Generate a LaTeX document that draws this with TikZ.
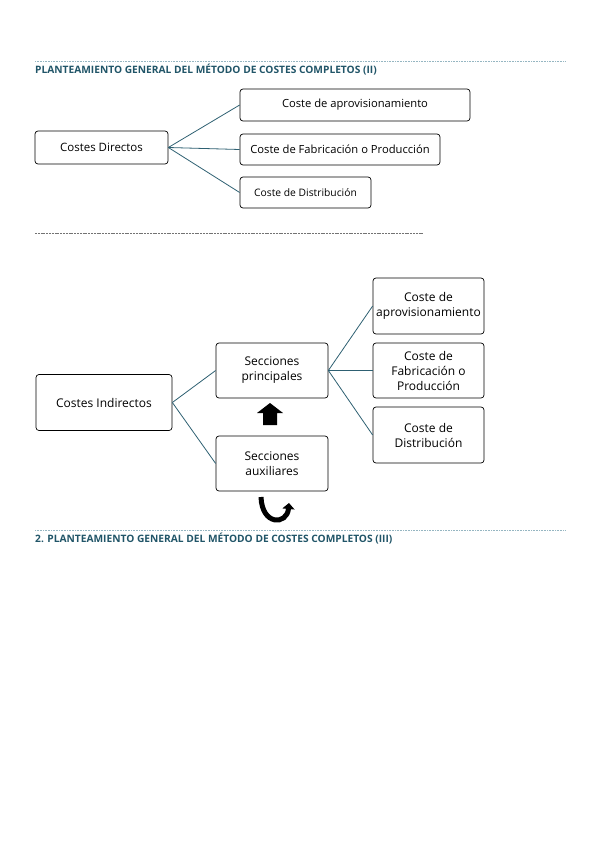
\documentclass[tikz,border=0pt]{standalone}
\usepackage{fontspec}
\setmainfont{Open Sans}
\usepackage{tikz}
\usetikzlibrary{arrows.meta}
\definecolor{titleteal}{RGB}{33,85,104}
\definecolor{linkteal}{RGB}{46,96,114}
\definecolor{ruleblue}{RGB}{150,182,194}
\tikzset{
  box/.style={draw=black, rounded corners=3pt, line width=0.7pt, align=center, inner sep=1pt, font=\fontsize{11.2}{14}\selectfont},
  bigbox/.style={box, minimum width=112pt, minimum height=55pt, font=\fontsize{12}{15}\selectfont},
  link/.style={draw=linkteal, line width=0.8pt},
  heading/.style={anchor=west, inner sep=0pt, text=titleteal, font=\bfseries\fontsize{10.2}{12}\selectfont},
}
\begin{document}
\begin{tikzpicture}[x=1pt,y=-1pt]
			%%%%% START %%%%%
			\useasboundingbox (0,0) rectangle (599,848);
			\def\lx{35}
			\def\rx{565}
			
			% top rule and title
			\draw[ruleblue, densely dotted, line width=0.6pt] (\lx,61) -- (\rx,61);
			\node[heading] (titleA) at (\lx,70) {PLANTEAMIENTO GENERAL DEL MÉTODO DE COSTES COMPLETOS (II)};
			
			% costes directos
			\node[box, minimum width=133pt, minimum height=33pt, font=\fontsize{11.5}{14}\selectfont] (cd) at (101.5,147.5) {Costes Directos};
			\node[box, minimum width=230pt, minimum height=32pt] (cdA) at (355,105) {Coste de aprovisionamiento};
			\node[box, minimum width=200pt, minimum height=31pt] (cdB) at (340,149.5) {Coste de Fabricación o Producción};
			\node[box, minimum width=131pt, minimum height=31pt, font=\fontsize{10.3}{12}\selectfont] (cdC) at (305.5,192.5) {Coste de Distribución};
			\draw[link] (cd.east) -- (cdA.west);
			\draw[link] (cd.east) -- (cdB.west);
			\draw[link] (cd.east) -- (cdC.west);
			
			\draw[black!55, dashed, dash pattern=on 2pt off 0.8pt, line width=0.5pt] (\lx,233) -- (423,233);
			
			% costes indirectos
			\node[bigbox, minimum width=136pt, minimum height=56pt] (ci) at (104,402.5) {Costes Indirectos};
			\node[bigbox] (sp) at (272,370.5) {Secciones\\principales};
			\node[bigbox] (sa) at (272,463.5) {Secciones\\auxiliares};
			\node[bigbox, minimum width=111pt, minimum height=56pt] (ciA) at (428.5,306) {Coste de\\aprovisionamiento};
			\node[bigbox, minimum width=111pt] (ciB) at (428.5,370.5) {Coste de\\Fabricación o\\Producción};
			\node[bigbox, minimum width=111pt, minimum height=56pt] (ciC) at (428.5,435) {Coste de\\Distribución};
			\draw[link] (ci.east) -- (sp.west);
			\draw[link] (ci.east) -- (sa.west);
			\draw[link] (sp.east) -- (ciA.west);
			\draw[link] (sp.east) -- (ciB.west);
			\draw[link] (sp.east) -- (ciC.west);
			
			% block arrow and turn arrow
			\fill[black] (263,425) -- (263,413) -- (257,413) -- (270,403) -- (283,413) -- (277,413) -- (277,425) -- cycle;
			\draw[line width=5pt, -{Triangle[length=6pt,width=12pt]}] (261,497) .. controls (262,526) and (287,525) .. (289,503);
			
			% bottom rule and title
			\draw[ruleblue, densely dotted, line width=0.6pt] (\lx,530) -- (\rx,530);
			\node[heading] (titleB) at (\lx,539) {2. PLANTEAMIENTO GENERAL DEL MÉTODO DE COSTES COMPLETOS (III)};
			%%%%% END %%%%%
\end{tikzpicture}
\end{document}
